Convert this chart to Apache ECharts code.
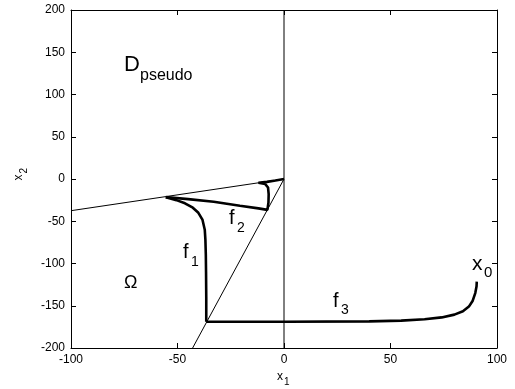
<!DOCTYPE html>
<html>
<head>
<meta charset="utf-8">
<script src="https://cdn.jsdelivr.net/npm/echarts@6/dist/echarts.min.js"></script>
<style>
  html, body { margin: 0; padding: 0; background: #fff; }
  #chart { width: 515px; height: 389px; }
</style>
</head>
<body>
<div id="chart"></div>
<script>
// guide lines
const lineTop = [[-100, -37.5], [0, 0]];
const lineDiag = [[0, 0], [-42.9, -200]];
const lineAxis = [[0, -200], [0, 200]];

// trajectories
const f1 = [[-36.5, -169], [-36.5, -140], [-36.6, -110], [-36.7, -90], [-36.9, -72], [-37.2, -60],
  [-38.3, -48], [-40.2, -40], [-42.8, -34], [-46.5, -28.8], [-50.5, -25], [-55.5, -21.5]];
const f2 = [[-55.5, -21.5], [-45, -23.8], [-33, -26.9], [-20.7, -31.6], [-12, -34.8], [-7.8, -36.5],
  [-7.3, -28], [-7.2, -18], [-7.5, -10], [-8.8, -6], [-12, -4.5], [-8, -3.4], [-4, -1.8], [0, 0]];
const f3 = [[-36.5, -169], [0, -169], [40, -168.5], [55, -167.6], [66, -166], [74, -163.8], [80, -160.5],
  [84, -156.5], [86.8, -151], [88.6, -144], [89.8, -135], [90.4, -127], [90.5, -121.5]];

const xTicks = [-100, -50, 0, 50, 100];
const yTicks = [-200, -150, -100, -50, 0, 50, 100, 150, 200];

const chart = echarts.init(document.getElementById('chart'));
const font = 'Liberation Sans, Arial, sans-serif';

const axisBase = {
  type: 'value',
  axisLine: { show: true, onZero: false, lineStyle: { color: '#000', width: 1 } },
  axisTick: { show: true, inside: true, length: 5, lineStyle: { color: '#000' } },
  splitLine: { show: false }
};

const thick = { color: '#000', width: 2.6 };
const thin = { color: '#000', width: 1 };

function lineSeries(data, style) {
  return { type: 'line', data: data, showSymbol: false, lineStyle: style, silent: true,
    animation: false, clip: true };
}

// main text + subscript, positions in pixels
function label(x, y, main, size, sx, sy, sub, subSize) {
  return [
    { type: 'text', left: x, top: y, style: { text: main, font: size + 'px ' + font, fill: '#000' } },
    { type: 'text', left: sx, top: sy, style: { text: sub, font: subSize + 'px ' + font, fill: '#000' } }
  ];
}

chart.setOption({
  animation: false,
  grid: { left: 71, right: 18, top: 10, bottom: 41 },
  xAxis: [
    Object.assign({}, axisBase, { min: -100, max: 100, interval: 50, position: 'bottom',
      axisLabel: { color: '#000', fontSize: 12, fontFamily: font, margin: 6 } }),
    Object.assign({}, axisBase, { min: -100, max: 100, interval: 50, position: 'top',
      axisLabel: { show: false } })
  ],
  yAxis: [
    Object.assign({}, axisBase, { min: -200, max: 200, interval: 50, position: 'left',
      axisLabel: { color: '#000', fontSize: 12, fontFamily: font, margin: 6 } }),
    Object.assign({}, axisBase, { min: -200, max: 200, interval: 50, position: 'right',
      axisLabel: { show: false } })
  ],
  graphic: [].concat(
    label(124, 54, 'D', 22, 140, 68, 'pseudo', 16),
    label(229, 208, 'f', 20, 237, 221, '2', 14),
    label(183, 242, 'f', 20, 191, 255, '1', 14),
    label(333, 291, 'f', 20, 341, 303, '3', 14),
    label(472, 254, 'x', 21, 484, 265, '0', 15),
    label(277, 371, 'x', 12, 284, 377, '1', 10),
    [{ type: 'text', left: 124, top: 274, style: { text: 'Ω', font: '18px ' + font, fill: '#000' } },
     { type: 'group', left: 13, top: 168, rotation: Math.PI / 2, children: [
        { type: 'text', x: 0, y: 0, style: { text: 'x', font: '12px ' + font, fill: '#000' } },
        { type: 'text', x: 7, y: 6, style: { text: '2', font: '10px ' + font, fill: '#000' } }
     ] }]
  ),
  series: [
    lineSeries(lineTop, thin),
    lineSeries(lineDiag, thin),
    lineSeries(lineAxis, thin),
    lineSeries(f1, thick),
    lineSeries(f2, thick),
    lineSeries(f3, thick)
  ]
});
</script>
</body>
</html>
